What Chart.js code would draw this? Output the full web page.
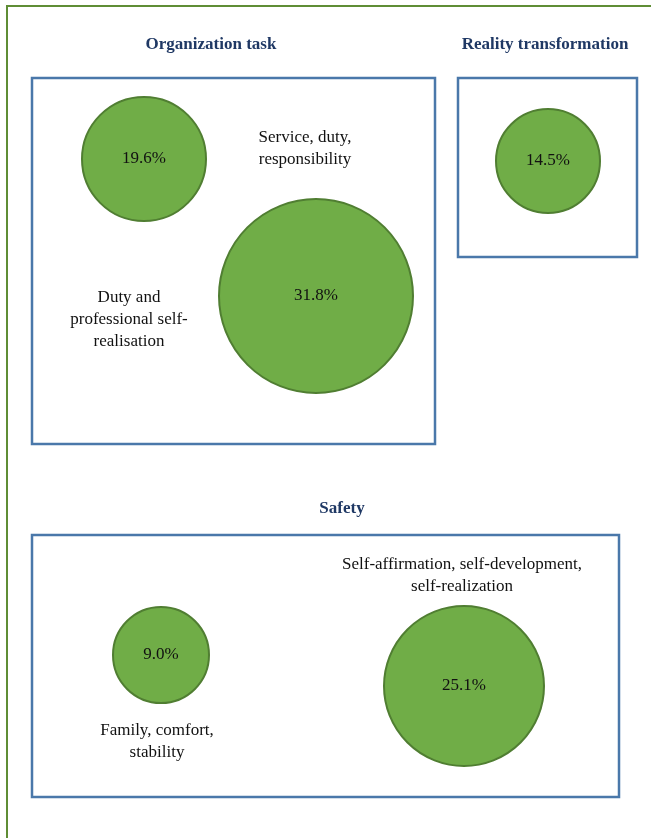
<!DOCTYPE html>
<html>
<head>
<meta charset="utf-8">
<script src="https://cdn.jsdelivr.net/npm/chart.js@4.4.1/dist/chart.umd.min.js"></script>
<style>
    html, body { margin: 0; padding: 0; background: #fff; }
    #wrap { width: 651px; height: 838px; position: relative; }
</style>
</head>
<body>
<div id="wrap"><canvas id="c" width="651" height="838"></canvas></div>
<script>
// values shown in the bubbles (%)
const shares = [19.6, 31.8, 14.5, 9.0, 25.1];
// bubble placement on the page grid
const bubbleX = [144, 316, 548, 161, 464];
const bubbleY = [159, 296, 161, 655, 686];
const bubbleR = [62, 97, 52, 48, 80];

// group titles and their frames (page units)
const groupTitles = ['Organization task', 'Reality transformation', 'Safety'];
const titleX = [211, 545, 342];
const titleY = [45, 45, 509];
const frames = [[32, 78, 435, 444], [458, 78, 637, 257], [32, 535, 619, 797]];

// category captions
const captions = [
    ['Service, duty,', 'responsibility'],
    ['Duty and', 'professional self-', 'realisation'],
    ['Self-affirmation, self-development,', 'self-realization'],
    ['Family, comfort,', 'stability'],
];
const captionX = [305, 129, 462, 157];
const captionY = [138, 298, 565, 731];

const SERIF = '"Liberation Serif", "Times New Roman", serif';

const decor = {
    id: 'decor',
    beforeDatasetsDraw(chart) {
        const { ctx, scales: { x, y } } = chart;
        ctx.save();
        // outer page frame
        ctx.strokeStyle = '#5f8d35';
        ctx.lineWidth = 2;
        ctx.beginPath();
        ctx.moveTo(x.getPixelForValue(7), y.getPixelForValue(838));
        ctx.lineTo(x.getPixelForValue(7), y.getPixelForValue(6));
        ctx.lineTo(x.getPixelForValue(651), y.getPixelForValue(6));
        ctx.stroke();

        ctx.strokeStyle = '#4a78aa';
        ctx.lineWidth = 2.5;
        frames.forEach(([x0, y0, x1, y1]) => {
            const px0 = x.getPixelForValue(x0), py0 = y.getPixelForValue(y0);
            ctx.strokeRect(px0, py0, x.getPixelForValue(x1) - px0, y.getPixelForValue(y1) - py0);
        });

        ctx.textAlign = 'center';
        ctx.textBaseline = 'middle';
        ctx.fillStyle = '#1f3864';
        ctx.font = 'bold 17px ' + SERIF;
        groupTitles.forEach((t, i) => {
            ctx.fillText(t, x.getPixelForValue(titleX[i]), y.getPixelForValue(titleY[i]));
        });

        ctx.fillStyle = '#111';
        ctx.font = '17px ' + SERIF;
        captions.forEach((lines, i) => {
            lines.forEach((line, j) => {
                ctx.fillText(line, x.getPixelForValue(captionX[i]), y.getPixelForValue(captionY[i] + j * 22));
            });
        });
        ctx.restore();
    },
    afterDatasetsDraw(chart) {
        const { ctx } = chart;
        const meta = chart.getDatasetMeta(0);
        ctx.save();
        ctx.textAlign = 'center';
        ctx.textBaseline = 'middle';
        ctx.fillStyle = '#111';
        ctx.font = '17px ' + SERIF;
        meta.data.forEach((el, i) => {
            ctx.fillText(shares[i].toFixed(1) + '%', el.x, el.y);
        });
        ctx.restore();
    }
};

new Chart(document.getElementById('c').getContext('2d'), {
    type: 'bubble',
    data: {
        datasets: [{
            data: shares.map((v, i) => ({ x: bubbleX[i], y: bubbleY[i], r: bubbleR[i], v })),
            backgroundColor: '#70ad47',
            borderColor: '#507e32',
            borderWidth: 2,
            hoverRadius: 0,
        }]
    },
    options: {
        responsive: false,
        animation: false,
        layout: { padding: 0, autoPadding: false },
        clip: false,
        scales: {
            x: { type: 'linear', min: 0, max: 651, display: false },
            y: { type: 'linear', min: 0, max: 838, reverse: true, display: false },
        },
        plugins: {
            legend: { display: false },
            tooltip: { enabled: false }
        }
    },
    plugins: [decor]
});
</script>
</body>
</html>
